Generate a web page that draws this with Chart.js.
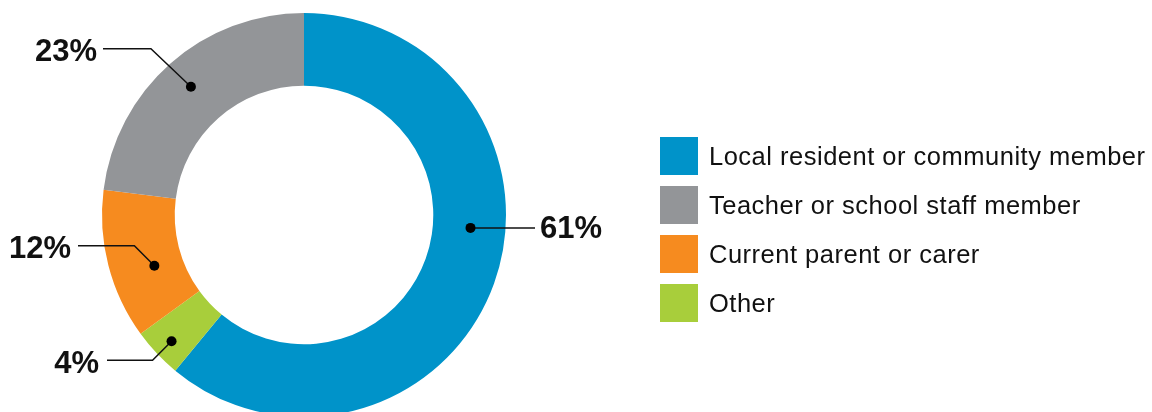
<!DOCTYPE html>
<html><head><meta charset="utf-8">
<script src="https://cdn.jsdelivr.net/npm/chart.js@4"></script>
<style>html,body{margin:0;padding:0;background:#fff;overflow:hidden;width:1152px;height:412px}
#wrap{position:relative;width:1152px;height:440px}</style>
</head><body><div id="wrap"><canvas id="c" width="1152" height="440"></canvas></div>
<script>
const categories = ['Local resident or community member', 'Other', 'Current parent or carer', 'Teacher or school staff member'];
const shares = [61, 4, 12, 23];
const colors = ['#0093C9', '#A8CE3B', '#F68B1F', '#939598'];
const legendOrder = [0, 3, 2, 1];
const valueLabels = ['61%', '4%', '12%', '23%'];

// label layout: t = position along arc, r = radius of dot, elbow offset, line end x, text pos
const labelLayout = [
  {t: 0.43, r: 167, elbow: null, endX: 535, tx: 540, ty: 238, align: 'left'},
  {t: 0.47, r: 183, elbow: [-19, 19], endX: 107, tx: 99, ty: 373, align: 'right'},
  {t: 0.40, r: 158, elbow: [-20, -20], endX: 78, tx: 71, ty: 258, align: 'right'},
  {t: 0.50, r: 171, elbow: [-40, -38], endX: 103, tx: 97, ty: 61, align: 'right'}
];

const labelPlugin = {
  id: 'leaderLabels',
  afterDatasetsDraw(chart) {
    const ctx = chart.ctx;
    const meta = chart.getDatasetMeta(0);
    ctx.save();
    meta.data.forEach((arc, i) => {
      const L = labelLayout[i];
      const p = arc.getProps(['x', 'y', 'startAngle', 'endAngle'], true);
      const a = p.startAngle + L.t * (p.endAngle - p.startAngle);
      const dx = p.x + Math.cos(a) * L.r;
      const dy = p.y + Math.sin(a) * L.r;
      ctx.strokeStyle = '#111';
      ctx.lineWidth = 1.5;
      ctx.beginPath();
      ctx.moveTo(dx, dy);
      let ey = dy;
      if (L.elbow) {
        const ex = dx + L.elbow[0];
        ey = dy + L.elbow[1];
        ctx.lineTo(ex, ey);
      }
      ctx.lineTo(L.endX, ey);
      ctx.stroke();
      ctx.fillStyle = '#000';
      ctx.beginPath();
      ctx.arc(dx, dy, 5, 0, Math.PI * 2);
      ctx.fill();
      ctx.font = 'bold 31px "Liberation Sans", Arial, sans-serif';
      ctx.textAlign = L.align;
      ctx.textBaseline = 'alphabetic';
      ctx.fillStyle = '#111';
      ctx.fillText(valueLabels[i], L.tx, L.ty);
    });
    ctx.restore();
  }
};

const legendPlugin = {
  id: 'sideLegend',
  afterDraw(chart) {
    const ctx = chart.ctx;
    ctx.save();
    legendOrder.forEach((idx, row) => {
      const top = 137 + row * 49;
      ctx.fillStyle = colors[idx];
      ctx.fillRect(660, top, 38, 38);
      ctx.fillStyle = '#111';
      ctx.font = '25.5px "Liberation Sans", Arial, sans-serif';
      if ('letterSpacing' in ctx) ctx.letterSpacing = '0.5px';
      ctx.textAlign = 'left';
      ctx.textBaseline = 'alphabetic';
      ctx.fillText(categories[idx], 709, top + 28);
    });
    ctx.restore();
  }
};

new Chart(document.getElementById('c'), {
  type: 'doughnut',
  data: {
    labels: categories,
    datasets: [{data: shares, backgroundColor: colors, borderWidth: 0, hoverOffset: 0}]
  },
  options: {
    responsive: false,
    animation: false,
    events: [],
    cutout: '64%',
    layout: {padding: {left: 102, top: 13, right: 1152 - 506, bottom: 440 - 417}},
    plugins: {legend: {display: false}, tooltip: {enabled: false}}
  },
  plugins: [labelPlugin, legendPlugin]
});
</script></body></html>
